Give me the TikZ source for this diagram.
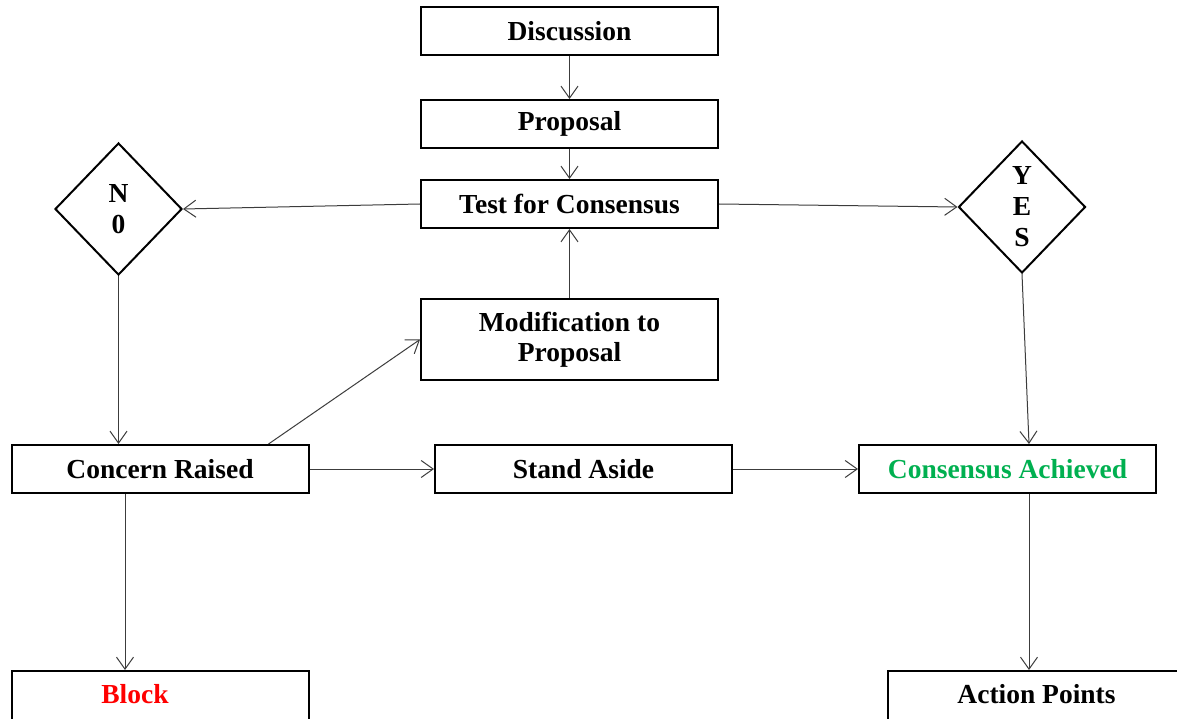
\documentclass[tikz,border=0pt]{standalone}
\usepackage{fontspec}
\setmainfont{Liberation Serif}
\usetikzlibrary{shapes.geometric}
\usetikzlibrary{arrows.meta}

\definecolor{okgreen}{RGB}{0,176,80}
\definecolor{linkgray}{RGB}{60,60,60}

\tikzset{
  stepbox/.style={draw, line width=2pt, minimum width=297pt, minimum height=48pt,
    inner sep=0pt, align=center, font=\fontsize{27.5}{30}\selectfont\bfseries},
  lowbox/.style={stepbox, minimum height=50pt, text height=18pt, text depth=4pt},
  choice/.style={draw, diamond, line width=2pt, minimum width=127pt, minimum height=132pt,
    inner sep=0pt, align=center, font=\fontsize{27.5}{31}\selectfont\bfseries},
  link/.style={draw=linkgray, line width=1pt, -{Straight Barb[length=12pt,width=17pt]}}
}

\begin{document}
\begin{tikzpicture}[x=1pt, y=-1pt]
      \clip (0,0) rectangle (1177,719);
      \fill[white] (0,0) rectangle (1177,719);
      % top column
      \node[stepbox] (disc) at (569.5,31) {Discussion};
      \node[stepbox] (prop) at (569.5,124) {Proposal};
      \node[stepbox] (test) at (569.5,204) {Test for Consensus};
      \node[stepbox, minimum height=81pt] (modif) at (569.5,339.5) {Modification to\\Proposal};
      % decisions
      \node[choice] (no) at (118.5,209) {N\\0};
      \node[choice] (yes) at (1022,207) {Y\\E\\S};
      % middle row
      \node[stepbox] (concern) at (160,469) {Concern Raised};
      \node[stepbox] (aside) at (583.5,469) {Stand Aside};
      \node[stepbox, text=okgreen] (achieved) at (1007.5,469) {Consensus Achieved};
      % bottom row (cut by the lower edge)
      \node[lowbox] (block) at (160,696) {\hspace*{-50pt}\textcolor{red}{Block}};
      \node[lowbox] (actions) at (1036.5,696) {Action Points};
      % links
      \draw[link] (disc) -- (prop);
      \draw[link] (prop) -- (test);
      \draw[link] (test.west) -- (no.east);
      \draw[link] (test.east) -- (yes.west);
      \draw[link] (modif) -- (test);
      \draw[link] (no.south) -- (no.south |- concern.north);
      \draw[link] ([xshift=-41pt]concern.north east) -- (modif.west);
      \draw[link] (concern) -- (aside);
      \draw[link] (aside) -- (achieved);
      \draw[link] (yes.south) -- ([xshift=21.5pt]achieved.north);
      \draw[link] ([xshift=-35pt]concern.south) -- ([xshift=-35pt]block.north);
      \draw[link] ([xshift=21.5pt]achieved.south) -- ([xshift=21.5pt]achieved.south |- actions.north);
    \end{tikzpicture}
\end{document}
